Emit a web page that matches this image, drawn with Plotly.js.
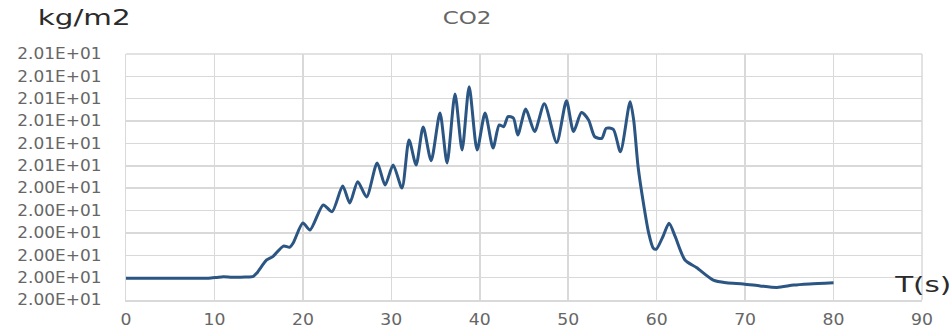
<!DOCTYPE html>
<html>
<head>
<meta charset="utf-8">
<script src="https://cdn.plot.ly/plotly-3.0.1.min.js"></script>
<style>
html,body{margin:0;padding:0;background:#fff;}
#chart{width:952px;height:330px;}
#chart g.ytick{transform-box:fill-box;transform-origin:100% 50%;transform:scaleX(1.13);}
#chart g.xtick{transform-box:fill-box;transform-origin:50% 50%;transform:scaleX(1.15);}
#chart .gtitle{transform-box:fill-box;transform-origin:50% 50%;transform:scaleX(1.35);}
#chart .annotation-text{transform-box:fill-box;transform-origin:50% 50%;transform:scaleX(1.4);}
</style>
</head>
<body>
<div id="chart"></div>
<script>
// Time (s)
const timeS = [0, 5, 9, 9.6, 10.3, 11, 12, 13.5, 14.4, 14.8, 15.9, 16.6, 17.8, 18.5, 18.9, 20.0, 20.8,
  22.3, 23.3, 24.5, 25.3, 26.2, 27.2, 28.4, 29.3, 30.2, 31.2, 32.0, 32.8, 33.6, 34.5,
  35.5, 36.3, 37.2, 38.0, 38.8, 39.7, 40.6, 41.5, 42.2, 42.7, 43.2, 43.8, 44.3, 45.2,
  46.2, 47.3, 48.7, 49.8, 50.6, 51.5, 52.3, 53.0, 53.8, 54.3, 55.1, 55.9, 57.0, 57.4,
  57.9, 58.5, 59.1, 59.6, 59.95, 60.7, 61.4, 62.1, 63.2, 64.5, 66.4, 67.9, 69.8, 71.7, 73.6, 75.5,
  77.3, 80.0];
// CO2 (kg/m2)
const co2 = [20.0047, 20.0047, 20.0047, 20.0048, 20.0051, 20.0054, 20.0052, 20.0053, 20.0056, 20.0071,
  20.0129, 20.0144, 20.0191, 20.0186, 20.0205, 20.0294, 20.0263, 20.0375, 20.0345,
  20.0460, 20.0384, 20.0479, 20.0411, 20.0563, 20.0464, 20.0554, 20.0451, 20.0666,
  20.0554, 20.0724, 20.0573, 20.0786, 20.0563, 20.0871, 20.0621, 20.0904, 20.0621,
  20.0786, 20.0630, 20.0733, 20.0725, 20.0770, 20.0764, 20.0688, 20.0804, 20.0703,
  20.0827, 20.0654, 20.0841, 20.0703, 20.0788, 20.0755, 20.0680, 20.0673, 20.0718,
  20.0713, 20.0613, 20.0837, 20.0755, 20.0546, 20.0384, 20.0249, 20.0183, 20.0177,
  20.0233, 20.0293, 20.0233, 20.0129, 20.0095, 20.0039, 20.0027, 20.0022, 20.0013,
  20.0006, 20.0017, 20.0022, 20.0027];
// Axis ticks
const yTickVals = [19.995, 20.005, 20.015, 20.025, 20.035, 20.045, 20.055, 20.065, 20.075, 20.085, 20.095, 20.105];
const yTickText = ['2.00E+01', '2.00E+01', '2.00E+01', '2.00E+01', '2.00E+01', '2.00E+01',
  '2.01E+01', '2.01E+01', '2.01E+01', '2.01E+01', '2.01E+01', '2.01E+01'];
const xTickVals = [0, 10, 20, 30, 40, 50, 60, 70, 80, 90];

const trace = {
  x: timeS, y: co2, type: 'scatter', mode: 'lines',
  line: {color: '#2b5582', width: 3, shape: 'spline', smoothing: 0.7},
  hoverinfo: 'x+y'
};

const tickFont = {family: 'DejaVu Sans', size: 15, color: '#666666'};
const layout = {
  width: 952, height: 330,
  margin: {l: 126, r: 30, t: 54, b: 30},
  paper_bgcolor: '#ffffff', plot_bgcolor: '#ffffff',
  showlegend: false,
  title: {text: 'CO2', font: {family: 'DejaVu Sans', size: 17, color: '#666666'},
          x: 408/952, xref: 'paper', xanchor: 'center', y: 1 - 18/330, yref: 'container', yanchor: 'middle'},
  xaxis: {
    range: [0, 90], tickvals: xTickVals, ticktext: xTickVals.map(String),
    showgrid: true, gridcolor: '#d9d9d9', gridwidth: 1.5,
    showline: true, linecolor: '#d9d9d9', linewidth: 1.5, mirror: false,
    zeroline: false, ticks: '', tickfont: tickFont, ticklabelstandoff: 6
  },
  yaxis: {
    range: [19.995, 20.105], tickvals: yTickVals, ticktext: yTickText,
    showgrid: true, gridcolor: '#d9d9d9', gridwidth: 1.5,
    showline: true, linecolor: '#d9d9d9', linewidth: 1.5,
    zeroline: false, ticks: '', tickfont: tickFont, ticklabelstandoff: 20
  },
  shapes: [
    {type: 'line', xref: 'paper', yref: 'paper', x0: 1, x1: 1, y0: 0, y1: 1, line: {color: '#d9d9d9', width: 1.5}},
    {type: 'line', xref: 'paper', yref: 'paper', x0: 0, x1: 1, y0: 1, y1: 1, line: {color: '#d9d9d9', width: 1.5}}
  ],
  annotations: [
    {text: 'kg/m2', xref: 'paper', yref: 'paper', x: -(126-84)/796, y: 1 + (54-18)/246,
     xanchor: 'center', yanchor: 'middle', showarrow: false,
     font: {family: 'DejaVu Sans', size: 21, color: '#2b2b2b'}},
    {text: 'T(s)', xref: 'paper', yref: 'paper', x: (922-126)/796, y: (300-285)/246,
     xanchor: 'center', yanchor: 'middle', showarrow: false,
     font: {family: 'DejaVu Sans', size: 21, color: '#2b2b2b'}, bgcolor: 'rgba(0,0,0,0)'}
  ]
};

Plotly.newPlot('chart', [trace], layout, {displayModeBar: false, staticPlot: true});
</script>
</body>
</html>
